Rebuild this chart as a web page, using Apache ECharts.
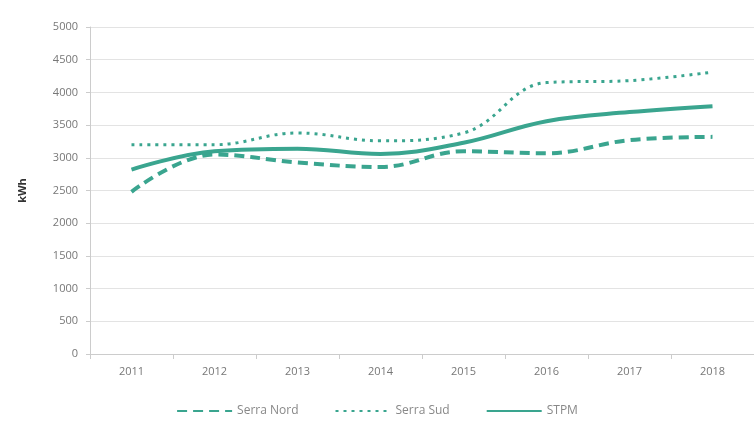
<!DOCTYPE html>
<html><head><meta charset="utf-8">
<script src="https://cdn.jsdelivr.net/npm/echarts@6/dist/echarts.min.js"></script>
<style>html,body{margin:0;padding:0;background:#fff}#c{width:754px;height:428px}</style>
</head><body><div id="c"></div>
<script>
const categories = ['2011','2012','2013','2014','2015','2016','2017','2018'];
const serraNord = [2480, 3050, 2930, 2860, 3100, 3070, 3270, 3320];
const serraSud = [3200, 3200, 3380, 3260, 3380, 4150, 4180, 4310];
const stpm = [2820, 3100, 3140, 3060, 3230, 3560, 3700, 3790];
const color = '#3aa58f';
const chart = echarts.init(document.getElementById('c'));
chart.setOption({
  animation: false,
  grid: { left: 90, right: 0, top: 27, bottom: 74 },
  legend: {
    bottom: 6, left: 'center', itemWidth: 55, itemHeight: 10, itemGap: 36,
    itemStyle: { opacity: 0 },
    textStyle: { color: '#888', fontSize: 12, fontFamily: 'Open Sans' },
    data: ['Serra Nord', 'Serra Sud', 'STPM']
  },
  xAxis: {
    type: 'category', data: categories, boundaryGap: true,
    axisLine: { lineStyle: { color: '#ccc' } },
    axisTick: { show: true, lineStyle: { color: '#ccc' } },
    axisLabel: { color: '#777', fontSize: 11, fontFamily: 'Open Sans', margin: 12 }
  },
  yAxis: {
    type: 'value', min: 0, max: 5000, interval: 500,
    name: 'kWh', nameLocation: 'middle', nameGap: 62, nameRotate: 90,
    nameTextStyle: { color: '#333', fontWeight: 'bold', fontSize: 11, fontFamily: 'Open Sans' },
    axisLine: { show: true, lineStyle: { color: '#ccc' } },
    axisTick: { show: true, length: 4, lineStyle: { color: '#ccc' } },
    axisLabel: { color: '#777', fontSize: 11, fontFamily: 'Open Sans', margin: 12, formatter: v => String(v) },
    splitLine: { lineStyle: { color: '#e3e3e3', width: 1 } }
  },
  series: [
    { name: 'Serra Nord', type: 'line', data: serraNord, smooth: 0.4, symbol: 'none',
      lineStyle: { color: color, width: 4, type: [10, 6] }, itemStyle: { color: color } },
    { name: 'Serra Sud', type: 'line', data: serraSud, smooth: 0.4, symbol: 'none',
      lineStyle: { color: color, width: 3, type: [3, 5] }, itemStyle: { color: color } },
    { name: 'STPM', type: 'line', data: stpm, smooth: 0.4, symbol: 'none',
      lineStyle: { color: color, width: 4 }, itemStyle: { color: color } }
  ]
});
</script></body></html>
